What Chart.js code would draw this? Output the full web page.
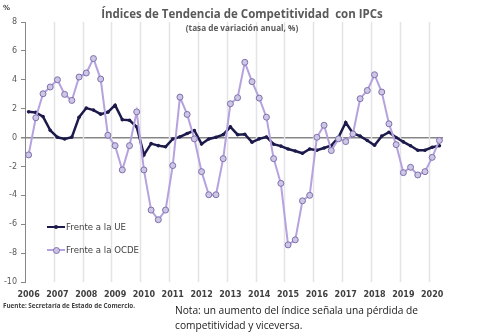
<!DOCTYPE html>
<html>
<head>
<meta charset="utf-8">
<script src="https://cdn.jsdelivr.net/npm/chart.js@4"></script>
<style>
  body { margin: 0; background: #fff; }
  #wrap { position: relative; width: 480px; height: 336px; overflow: hidden; }
  #wrap canvas { position: absolute; left: 0; top: 0; }
  .txt { position: absolute; white-space: nowrap; }
  #pct { left: 3px; top: 4px; font: bold 7px "DejaVu Sans", sans-serif; color: #404040; }
  #title { left: 0; width: 484px; top: 6px; text-align: center; font: bold 11.5px "Open Sans", sans-serif; color: #595959; }
  #sub { left: 0; width: 484px; top: 22px; text-align: center; font: bold 8.2px "Open Sans", sans-serif; color: #595959; }
  #src { left: 3px; top: 301px; font: bold 6.3px "Open Sans", sans-serif; color: #404040; }
  #note { left: 175px; top: 303px; font: 10.2px/15px "Open Sans", sans-serif; color: #1a1a1a; }
  .leg { position: absolute; left: 47px; width: 150px; white-space: nowrap; font: 8.6px "DejaVu Sans", sans-serif; color: #404040; height: 12px; line-height: 12px; }
  .leg .ln { position: absolute; left: 0; top: 5px; width: 18px; }
  .leg .mk { position: absolute; border-radius: 50%; }
  .leg .lb { position: absolute; left: 19px; top: 0; }
</style>
</head>
<body>
<div id="wrap">
  <canvas id="c" width="480" height="336"></canvas>
  <div class="txt" id="pct">%</div>
  <div class="txt" id="title">Índices de Tendencia de Competitividad&nbsp; con IPCs</div>
  <div class="txt" id="sub">(tasa de variación anual, %)</div>
  <div class="leg" style="top:221px">
    <span class="ln" style="border-top:2.5px solid #1c1a4a"></span>
    <span class="mk" style="left:7px;top:4px;width:4px;height:4px;background:#1c1a4a"></span>
    <span class="lb">Frente a la UE</span>
  </div>
  <div class="leg" style="top:244px">
    <span class="ln" style="border-top:2px solid #b6a2de"></span>
    <span class="mk" style="left:6px;top:3px;width:5px;height:5px;background:#cbc3e3;border:1px solid #7f6fae"></span>
    <span class="lb">Frente a la OCDE</span>
  </div>
  <div class="txt" id="src">Fuente: Secretaría de Estado de Comercio.</div>
  <div class="txt" id="note">Nota: un aumento del índice señala una pérdida de<br>competitividad y viceversa.</div>
</div>
<script>
// años mostrados en el eje (datos trimestrales, T1 2006 - T2 2020)
const years = [2006, 2007, 2008, 2009, 2010, 2011, 2012, 2013, 2014, 2015, 2016, 2017, 2018, 2019, 2020];
const quarters = ['T1', 'T2', 'T3', 'T4'];

const frenteUE = [
  1.78, 1.74, 1.45, 0.50, 0.02, -0.10, 0.03, 1.41,
  2.04, 1.90, 1.62, 1.76, 2.24, 1.24, 1.20, 0.74,
  -1.20, -0.42, -0.56, -0.64, -0.10, 0.05, 0.28, 0.49,
  -0.44, -0.10, 0.02, 0.20, 0.74, 0.20, 0.23, -0.32,
  -0.09, 0.04, -0.46, -0.59, -0.79, -0.93, -1.09, -0.79,
  -0.88, -0.72, -0.55, 0.02, 1.04, 0.30, 0.10, -0.20,
  -0.53, 0.10, 0.37, 0.00, -0.30, -0.57, -0.88, -0.88,
  -0.67, -0.57
];

const frenteOCDE = [
  -1.20, 1.37, 3.03, 3.50, 4.00, 2.99, 2.57, 4.19,
  4.47, 5.47, 4.05, 0.16, -0.56, -2.24, -0.56, 1.78,
  -2.24, -5.02, -5.69, -5.02, -1.94, 2.80, 1.60, -0.09,
  -2.36, -3.96, -3.96, -1.46, 2.34, 2.76, 5.21, 3.87,
  2.73, 1.41, -1.46, -3.17, -7.43, -7.08, -4.38, -4.00,
  0.02, 0.85, -0.90, -0.09, -0.28, 0.25, 2.69, 3.26,
  4.35, 3.15, 0.95, -0.49, -2.43, -2.06, -2.59, -2.36,
  -1.37, -0.20
];

const labels = [];
years.forEach(y => quarters.forEach(q => labels.push(y + ' ' + q)));
labels.length = frenteUE.length;

// líneas verticales entre años (entre el T4 y el T1 siguiente)
const yearLines = {
  id: 'yearLines',
  beforeDatasetsDraw(chart) {
    const {ctx, chartArea, scales} = chart;
    ctx.save();
    ctx.strokeStyle = '#e3e3e8';
    ctx.lineWidth = 1.5;
    for (let i = 4; i < labels.length; i += 4) {
      const x = Math.round(scales.x.getPixelForValue(i - 0.5)) + 0.5;
      ctx.beginPath();
      ctx.moveTo(x, chartArea.top);
      ctx.lineTo(x, chartArea.bottom);
      ctx.stroke();
    }
    ctx.restore();
  }
};

new Chart(document.getElementById('c'), {
  type: 'line',
  data: {
    labels: labels,
    datasets: [
      {
        label: 'Frente a la UE',
        data: frenteUE,
        borderColor: '#1c1a4a',
        backgroundColor: '#1c1a4a',
        borderWidth: 2.5,
        pointRadius: 1.8,
        pointBorderWidth: 0,
        pointBackgroundColor: '#1c1a4a',
        tension: 0,
        order: 2
      },
      {
        label: 'Frente a la OCDE',
        data: frenteOCDE,
        borderColor: '#b6a2de',
        backgroundColor: '#cbc3e3',
        borderWidth: 2,
        pointRadius: 3,
        pointBorderWidth: 1,
        pointBorderColor: '#7f6fae',
        pointBackgroundColor: '#cdc6e4',
        tension: 0,
        order: 1
      }
    ]
  },
  plugins: [yearLines],
  options: {
    responsive: false,
    animation: false,
    layout: { padding: { top: 22, right: 37, left: 0, bottom: 0 } },
    plugins: {
      legend: { display: false },
      tooltip: { enabled: false }
    },
    scales: {
      x: {
        offset: true,
        afterFit: s => { s.height = 54; },
        border: { display: false },
        grid: { display: false, drawTicks: false },
        ticks: {
          autoSkip: false,
          maxRotation: 0,
          padding: 8,
          color: '#404040',
          font: { family: 'DejaVu Sans', size: 8, weight: 'bold' },
          callback: (v, i) => i % 4 === 0 ? labels[i].slice(0, 4) : ''
        }
      },
      y: {
        min: -10,
        max: 8,
        afterFit: s => { s.width = 25; },
        border: { display: true, color: '#868686', width: 1 },
        grid: {
          drawTicks: true,
          tickLength: 4,
          tickColor: '#868686',
          color: ctx => ctx.tick && ctx.tick.value === 0 ? '#868686' : 'rgba(0,0,0,0)',
          lineWidth: ctx => ctx.tick && ctx.tick.value === 0 ? 1.5 : 1
        },
        ticks: {
          stepSize: 2,
          padding: 4,
          color: '#595959',
          font: { family: 'DejaVu Sans', size: 8 }
        }
      }
    }
  }
});
</script>
</body>
</html>
